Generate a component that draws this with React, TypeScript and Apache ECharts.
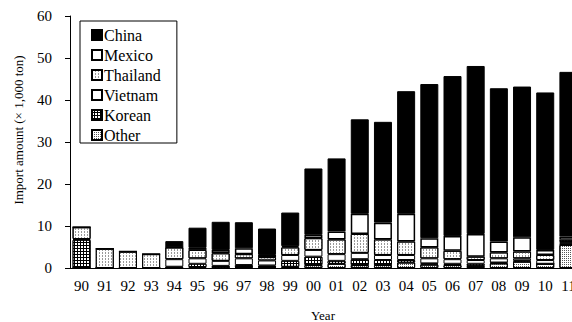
import React, { useEffect, useRef } from "react";
import * as echarts from "echarts";

const years = ["90","91","92","93","94","95","96","97","98","99","00","01","02","03","04","05","06","07","08","09","10","11"];
const china =    [0,   0,   0,   0,   1.5, 4.8, 6.7, 6.2, 6.3, 8.0, 15.8, 17.4, 22.5, 24.0, 29.2, 36.7, 38.1, 40.0, 36.5, 35.9, 37.5, 39.2];
const mexico =   [0,   0,   0,   0,   0,   0.5, 0.8, 1.4, 0.5, 0.3, 0.8,  1.9,  4.8,  4.0,  6.6,  2.2,  3.5,  5.4,  2.6,  3.4,  1.2,  0.8];
const thailand = [2.8, 4.6, 3.9, 3.3, 2.8, 2.0, 1.8, 1.0, 0.8, 1.8, 2.8,  3.5,  4.5,  3.7,  3.2,  2.6,  2.0,  0.8,  1.4,  1.6,  1.2,  0.5];
const vietnam =  [0.2, 0,   0,   0,   1.8, 1.3, 1.2, 1.6, 1.2, 1.4, 1.6,  1.6,  1.5,  1.2,  1.2,  1.2,  1.1,  0.9,  1.0,  0.5,  0.9,  0.5];
const korean =   [6.7, 0,   0,   0,   0.2, 0.8, 0.4, 0.5, 0.4, 1.4, 2.0,  0.7,  1.4,  1.2,  0.6,  0.3,  0.3,  0.5,  0.2,  0.3,  0,    0.2];
const other =    [0,   0,   0,   0,   0.1, 0.2, 0.1, 0.2, 0.2, 0.3, 0.7,  1.0,  0.7,  0.7,  1.3,  0.8,  0.7,  0.5,  1.1,  1.5,  1.0,  5.5];
const yTicks = [0, 10, 20, 30, 40, 50, 60];

const FONT = "Liberation Serif, Times New Roman, serif";

export default function App() {
  const ref = useRef<HTMLDivElement>(null);
  useEffect(() => {
    document.body.style.margin = "0";
    const chart = echarts.init(ref.current!, null, { renderer: "svg" });
    const base = {
      type: "bar",
      stack: "total",
      barWidth: 18,
      itemStyle: { borderColor: "#000", borderWidth: 1 },
    };
    chart.setOption({
      animation: false,
      backgroundColor: "#fff",
      grid: { left: 70, top: 16, width: 510, height: 252 },
      legend: {
        orient: "vertical",
        left: 80,
        top: 21,
        padding: [6, 16, 0, 11],
        itemGap: 4,
        itemWidth: 10,
        itemHeight: 10,
        icon: "rect",
        borderColor: "#000",
        borderWidth: 1,
        borderRadius: 0,
        data: ["China", "Mexico", "Thailand", "Vietnam", "Korean", "Other"],
        textStyle: { fontFamily: FONT, fontSize: 16, color: "#000", padding: [0, 0, 0, -3], lineHeight: 16 },
      },
      xAxis: {
        type: "category",
        data: years,
        axisLine: { lineStyle: { color: "#000", width: 1 } },
        axisTick: { inside: true, length: 4, lineStyle: { color: "#000" } },
        axisLabel: { fontFamily: FONT, fontSize: 15, color: "#000", margin: 10, interval: 0 },
      },
      yAxis: {
        type: "value",
        min: yTicks[0],
        max: yTicks[yTicks.length - 1],
        interval: 10,
        splitLine: { show: false },
        axisLine: { show: true, lineStyle: { color: "#000", width: 1 } },
        axisTick: { show: true, length: 5, lineStyle: { color: "#000" } },
        axisLabel: { fontFamily: FONT, fontSize: 15, color: "#000", margin: 18 },
      },
      graphic: [
        {
          type: "text",
          x: 18,
          y: 130,
          rotation: Math.PI / 2,
          style: {
            text: "Import amount (× 1,000 ton)",
            fontFamily: FONT,
            fontSize: 13,
            fill: "#000",
            textAlign: "center",
            textVerticalAlign: "middle",
          },
        },
        {
          type: "text",
          x: 323,
          y: 315,
          style: {
            text: "Year",
            fontFamily: FONT,
            fontSize: 13,
            fill: "#000",
            textAlign: "center",
            textVerticalAlign: "middle",
          },
        },
      ],
      series: [
        {
          ...base,
          name: "Other",
          data: other,
          itemStyle: {
            ...base.itemStyle,
            color: "#fff",
            decal: { symbol: "rect", symbolSize: 1, color: "#555", dashArrayX: [1, 1], dashArrayY: [1, 1] },
          },
        },
        {
          ...base,
          name: "Korean",
          data: korean,
          itemStyle: {
            ...base.itemStyle,
            color: "#000",
            decal: { symbol: "rect", symbolSize: 1, color: "#fff", dashArrayX: [2, 1], dashArrayY: [2, 1] },
          },
        },
        {
          ...base,
          name: "Vietnam",
          data: vietnam,
          itemStyle: { ...base.itemStyle, color: "#fff" },
        },
        {
          ...base,
          name: "Thailand",
          data: thailand,
          itemStyle: {
            ...base.itemStyle,
            color: "#fff",
            decal: { symbol: "rect", symbolSize: 1, color: "#999", dashArrayX: [1, 2], dashArrayY: [2, 1] },
          },
        },
        {
          ...base,
          name: "Mexico",
          data: mexico,
          itemStyle: { ...base.itemStyle, color: "#fff", borderWidth: 1.5 },
        },
        {
          ...base,
          name: "China",
          data: china,
          itemStyle: { ...base.itemStyle, color: "#000" },
        },
      ],
    });
    return () => chart.dispose();
  }, []);
  return (
    <div style={{ width: 572, height: 322, overflow: "hidden", position: "relative" }}>
      <div ref={ref} style={{ width: 600, height: 322 }} />
    </div>
  );
}
